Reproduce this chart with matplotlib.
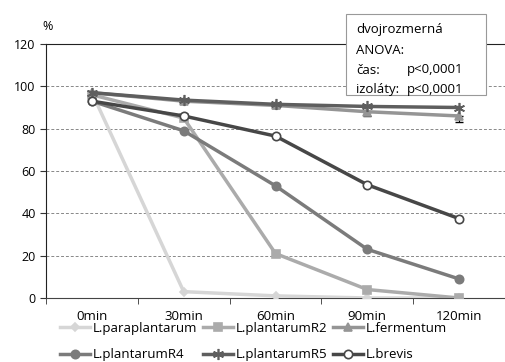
import matplotlib
matplotlib.use("Agg")
from matplotlib import pyplot as plt
from matplotlib.patches import Rectangle
import numpy as np

plt.rcParams['font.family'] = ['Open Sans', 'DejaVu Sans']

times = ['0min', '30min', '60min', '90min', '120min']

paraplantarum = [97, 3, 1, 0, 0]
plantarum_r2 = [96, 85, 21, 4, 0]
fermentum = [97, 93, 91, 88, 86]
plantarum_r4 = [93, 79, 53, 23, 9]
plantarum_r5 = [97, 93.5, 91.5, 90.5, 90]
brevis = [93, 86, 76.5, 53.5, 37.5]

fermentum_err = [0, 0, 1, 2, 3]
brevis_err = [0, 0, 0, 0.5, 1]

names = ['L.paraplantarum', 'L.plantarumR2', 'L.fermentum',
         'L.plantarumR4', 'L.plantarumR5', 'L.brevis']

fig = plt.figure(figsize=(5.05, 3.62), dpi=100)
ax = fig.add_axes([46 / 505, 1 - 298 / 362, 459 / 505, 254 / 362])

x = np.arange(len(times))

styles = [
    (paraplantarum, None, '#d6d6d6', 'D', 4, '#d6d6d6'),
    (plantarum_r2, None, '#ababab', 's', 6, '#ababab'),
    (fermentum, fermentum_err, '#959595', '^', 6, '#959595'),
    (plantarum_r4, None, '#7b7b7b', 'o', 6, '#7b7b7b'),
    (plantarum_r5, None, '#5e5e5e', (6, 2, 0), 8, '#5e5e5e'),
    (brevis, brevis_err, '#474747', 'o', 6, 'white'),
]

handles = []
for (vals, err, col, mk, ms, face), name in zip(styles, names):
    if err is not None:
        ax.errorbar(x, vals, yerr=[err, [0] * len(err)], fmt='none',
                    ecolor='black', elinewidth=0.8, capsize=3, zorder=2)
    ln, = ax.plot(x, vals, color=col, lw=2.5, marker=mk, ms=ms,
                  markerfacecolor=face, markeredgecolor=col,
                  markeredgewidth=1.2, label=name, zorder=3)
    handles.append(ln)

ax.set_xlim(-0.5, 4.5)
ax.set_ylim(0, 120)
ax.set_yticks(range(0, 121, 20))
ax.set_xticks(x)
ax.set_xticklabels(times)
ax.set_xticks(np.arange(-0.5, 4.6, 1), minor=True)
ax.tick_params(axis='x', which='major', length=0, pad=9, labelsize=9.5)
ax.tick_params(axis='x', which='minor', length=4, direction='out', color='#333333')
ax.tick_params(axis='y', length=4, direction='out', labelsize=9, color='#333333')

for yv in range(20, 101, 20):
    ax.axhline(yv, color='#888888', lw=0.7, ls=(0, (3, 2)), zorder=0)

ax.spines['right'].set_visible(False)
ax.spines['top'].set_color('#222222')
ax.spines['left'].set_color('#222222')
ax.spines['bottom'].set_color('#444444')

fig.text(42 / 505, 1 - 27 / 362, '%', fontsize=9, ha='left', va='center')

# ANOVA note box in the upper right corner
fig.patches.append(Rectangle((346 / 505, 1 - 95 / 362), 140 / 505, 81 / 362,
                             transform=fig.transFigure, facecolor='white',
                             edgecolor='#999999', lw=0.8, zorder=5))
note = [('dvojrozmerná', None, 30), ('ANOVA:', None, 50),
        ('čas:', 'p<0,0001', 70), ('izoláty:', 'p<0,0001', 89)]
for left, right, ypx in note:
    fig.text(356 / 505, 1 - ypx / 362, left, fontsize=9.5, va='center',
             ha='left', zorder=6)
    if right:
        fig.text(407 / 505, 1 - ypx / 362, right, fontsize=9.5,
                 va='center', ha='left', zorder=6)

# legend is filled column by column, so reorder for row-wise reading
order = [0, 3, 1, 4, 2, 5]
fig.legend(handles=[handles[i] for i in order], loc='upper left',
           bbox_to_anchor=(60 / 505, 1 - 322 / 362),
           ncol=3, frameon=False, fontsize=9.5, handlelength=2.3,
           handletextpad=0.2, columnspacing=0.4, labelspacing=1.0,
           borderaxespad=0, borderpad=0)

fig.savefig('out.png', dpi=100)
